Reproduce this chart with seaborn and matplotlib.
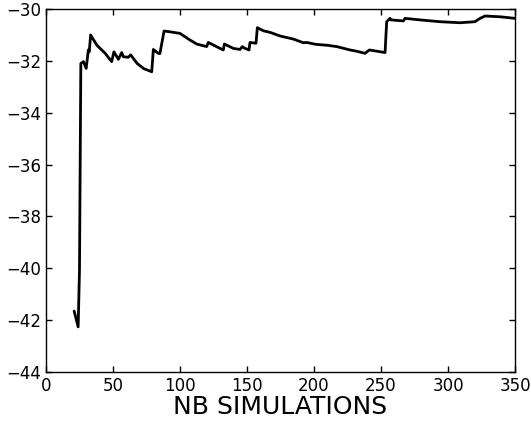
import matplotlib
matplotlib.use("Agg")
import matplotlib.pyplot as plt
import pandas as pd
import seaborn as sns

# values (simulation count vs score)
nb_sims = [21, 24, 25, 26, 28, 30, 31.6, 32.3, 33.3, 38, 44, 49, 50.7, 54, 56.5, 57.7,
           61.4, 63.2, 68, 73, 78.9, 80.1, 83.8, 85, 88.1, 91.3, 100, 106, 112.4,
           119.9, 121.1, 126, 132.3, 133.1, 139.8, 144.8, 146.5, 147.8, 151.5,
           152.2, 156.7, 157.7, 162.2, 167.2, 174.6, 184.6, 192, 194.5, 201, 210,
           217, 226.9, 232, 238, 241.3, 253, 254.2, 256.7, 257.5, 266.6, 267.9,
           279, 294, 308.9, 320, 323.9, 327.6, 338.8, 350]
score = [-41.65, -42.26, -40.07, -32.1, -32.03, -32.29, -31.58, -31.65, -31.0,
         -31.4, -31.7, -32.03, -31.65, -31.94, -31.68, -31.84, -31.86, -31.77,
         -32.1, -32.3, -32.42, -31.56, -31.71, -31.72, -30.85, -30.87, -30.94,
         -31.15, -31.35, -31.45, -31.29, -31.42, -31.58, -31.35, -31.52, -31.56,
         -31.45, -31.5, -31.58, -31.29, -31.32, -30.72, -30.84, -30.9, -31.04,
         -31.16, -31.3, -31.29, -31.36, -31.4, -31.45, -31.58, -31.63, -31.71,
         -31.58, -31.68, -30.49, -30.36, -30.42, -30.46, -30.36, -30.42, -30.49,
         -30.53, -30.49, -30.36, -30.27, -30.3, -30.36]

df = pd.DataFrame({'nb': nb_sims, 'score': score})

sns.set_style('ticks')
plt.rcParams['font.family'] = ['DejaVu Sans']
plt.rcParams['xtick.direction'] = 'in'
plt.rcParams['ytick.direction'] = 'in'
plt.rcParams['xtick.top'] = True
plt.rcParams['ytick.right'] = True

fig = plt.figure(figsize=(5.31, 4.21), dpi=100)
ax = fig.add_axes([0.0866, 0.1164, 0.8834, 0.8622])

sns.lineplot(data=df, x='nb', y='score', color='black', linewidth=2,
             estimator=None, sort=False, ax=ax)

ax.set_xlim(0, 350)
ax.set_ylim(-44, -30)
ax.set_xticks(range(0, 351, 50))
ax.set_yticks(range(-44, -29, 2))
ax.tick_params(labelsize=12, length=4, width=1, color='black', labelcolor='black')
for s in ax.spines.values():
    s.set_color('black')
    s.set_linewidth(1)
ax.set_xlabel('NB SIMULATIONS', fontsize=18, labelpad=0, color='black')
ax.set_ylabel('')

fig.savefig('out.png', dpi=100)
